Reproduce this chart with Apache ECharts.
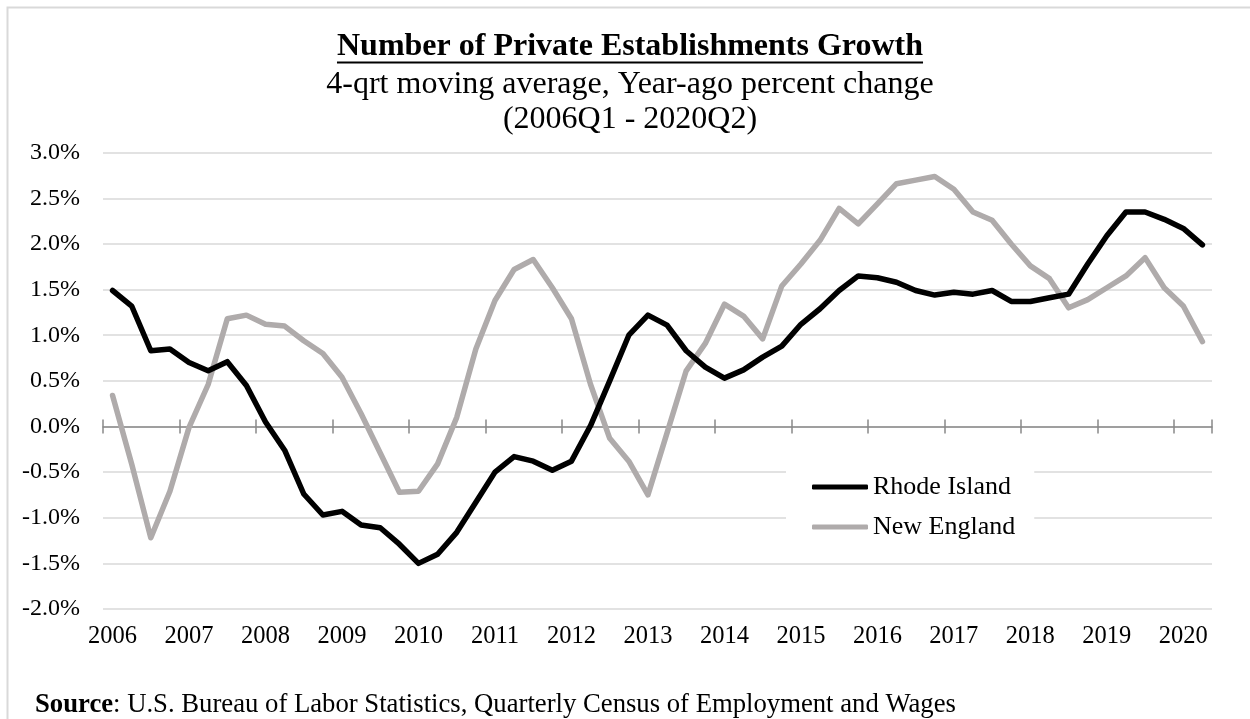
<!DOCTYPE html>
<html>
<head>
<meta charset="utf-8">
<title>Number of Private Establishments Growth</title>
<script src="https://cdn.jsdelivr.net/npm/echarts@6/dist/echarts.min.js"></script>
<style>
  html, body { margin: 0; padding: 0; background: #fff; }
  #chart { width: 1250px; height: 719px; }
</style>
</head>
<body>
<div id="chart"></div>
<script>
// Quarterly categories, 2006Q1 - 2020Q2
const quarters = [
  '2006Q1','2006Q2','2006Q3','2006Q4','2007Q1','2007Q2','2007Q3','2007Q4',
  '2008Q1','2008Q2','2008Q3','2008Q4','2009Q1','2009Q2','2009Q3','2009Q4',
  '2010Q1','2010Q2','2010Q3','2010Q4','2011Q1','2011Q2','2011Q3','2011Q4',
  '2012Q1','2012Q2','2012Q3','2012Q4','2013Q1','2013Q2','2013Q3','2013Q4',
  '2014Q1','2014Q2','2014Q3','2014Q4','2015Q1','2015Q2','2015Q3','2015Q4',
  '2016Q1','2016Q2','2016Q3','2016Q4','2017Q1','2017Q2','2017Q3','2017Q4',
  '2018Q1','2018Q2','2018Q3','2018Q4','2019Q1','2019Q2','2019Q3','2019Q4',
  '2020Q1','2020Q2'
];

// 4-quarter moving average, year-ago percent change (%)
const rhodeIsland = [
  1.49, 1.32, 0.83, 0.85, 0.70, 0.61, 0.71, 0.45,
  0.05, -0.26, -0.74, -0.97, -0.93, -1.08, -1.11, -1.29,
  -1.50, -1.40, -1.16, -0.83, -0.50, -0.33, -0.38, -0.48,
  -0.38, 0.01, 0.50, 1.00, 1.22, 1.11, 0.83, 0.65,
  0.53, 0.62, 0.76, 0.88, 1.12, 1.29, 1.49, 1.65,
  1.63, 1.58, 1.49, 1.44, 1.47, 1.45, 1.49, 1.37,
  1.37, 1.41, 1.45, 1.78, 2.09, 2.35, 2.35, 2.27,
  2.17, 1.99
];

const newEngland = [
  0.34, -0.41, -1.22, -0.71, -0.01, 0.46, 1.18, 1.22,
  1.12, 1.10, 0.94, 0.80, 0.54, 0.14, -0.29, -0.72,
  -0.71, -0.41, 0.10, 0.85, 1.38, 1.72, 1.83, 1.52,
  1.18, 0.46, -0.13, -0.38, -0.75, -0.07, 0.61, 0.91,
  1.34, 1.21, 0.96, 1.54, 1.78, 2.04, 2.39, 2.22,
  2.44, 2.66, 2.70, 2.74, 2.60, 2.35, 2.26, 2.00,
  1.76, 1.62, 1.30, 1.39, 1.52, 1.65, 1.85, 1.52,
  1.32, 0.93
];

const seriesNames = ['Rhode Island', 'New England'];
const titleLines = [
  'Number of Private Establishments Growth',
  '4-qrt moving average, Year-ago percent change',
  '(2006Q1 - 2020Q2)'
];
const sourceLabel = 'Source';
const sourceText = ': U.S. Bureau of Labor Statistics, Quarterly Census of Employment and Wages';

const Y_MIN = -2, Y_MAX = 3, Y_STEP = 0.5;

const SERIF = '"Liberation Serif", "Times New Roman", "DejaVu Serif", serif';
const titleFont = 'bold 32px ' + SERIF;
const subFont = '32px ' + SERIF;

// width of the bold title, used for its underline
function measure(font, text) {
  const ctx = document.createElement('canvas').getContext('2d');
  ctx.font = font;
  return ctx.measureText(text).width;
}
const titleCenterX = 630;
const titleW = measure(titleFont, titleLines[0]);

const chart = echarts.init(document.getElementById('chart'), null, { renderer: 'canvas' });

const axisGray = '#898989';
const tickStyle = { color: axisGray, width: 1.5 };

chart.setOption({
  animation: false,
  backgroundColor: '#ffffff',
  grid: {
    left: 103, right: 38, top: 152.7, bottom: 110,
    containLabel: false,
    outerBoundsMode: 'none'
  },
  xAxis: [
    {
      // category axis on the zero line: line, downward ticks, year labels
      type: 'category',
      data: quarters,
      position: 'bottom',
      axisLine: { onZero: true, onZeroAxisIndex: 0, lineStyle: { color: axisGray, width: 1.5 } },
      axisTick: { show: true, interval: 3, length: 7, lineStyle: tickStyle },
      axisLabel: {
        interval: 3,
        margin: 14,
        fontFamily: SERIF,
        fontSize: 24.5,
        lineHeight: 28,
        color: '#000',
        formatter: v => v.slice(0, 4)
      },
      splitLine: { show: false }
    },
    {
      // twin axis on the zero line supplying the upward half of the cross ticks
      type: 'category',
      data: quarters,
      position: 'top',
      axisLine: { show: false, onZero: true, onZeroAxisIndex: 1 },
      axisTick: { show: true, interval: 3, length: 7, lineStyle: tickStyle },
      axisLabel: { show: false },
      splitLine: { show: false }
    }
  ],
  yAxis: [
    {
      type: 'value',
      min: Y_MIN,
      max: Y_MAX,
      interval: Y_STEP,
      axisLine: { show: false },
      axisTick: { show: false },
      axisLabel: {
        margin: 23,
        fontFamily: SERIF,
        fontSize: 24,
        color: '#000',
        formatter: v => v.toFixed(1) + '%'
      },
      splitLine: { lineStyle: { color: '#d9d9d9', width: 1.5 } }
    },
    {
      type: 'value',
      min: Y_MIN,
      max: Y_MAX,
      interval: Y_STEP,
      show: false,
      splitLine: { show: false }
    }
  ],
  legend: {
    orient: 'vertical',
    left: 786,
    top: 455,
    padding: [19, 19, 5, 26],
    itemGap: 14,
    itemWidth: 56,
    itemHeight: 5,
    icon: 'roundRect',
    backgroundColor: '#ffffff',
    textStyle: { fontFamily: SERIF, fontSize: 26, color: '#000' },
    data: seriesNames
  },
  series: [
    {
      name: seriesNames[1],
      type: 'line',
      data: newEngland,
      color: '#afabab',
      symbol: 'none',
      z: 3,
      lineStyle: { width: 5.5, color: '#afabab', cap: 'round', join: 'round' }
    },
    {
      name: seriesNames[0],
      type: 'line',
      data: rhodeIsland,
      color: '#000000',
      symbol: 'none',
      z: 4,
      lineStyle: { width: 5.5, color: '#000000', cap: 'round', join: 'round' }
    }
  ],
  graphic: [
    {
      type: 'rect',
      silent: true,
      shape: { x: 7.5, y: 7.5, width: 1300, height: 760 },
      style: { fill: 'none', stroke: '#d9d9d9', lineWidth: 2 },
      z: 0
    },
    {
      type: 'text',
      silent: true,
      style: {
        text: titleLines[0], x: titleCenterX, y: 47,
        align: 'center', verticalAlign: 'middle',
        font: titleFont, fill: '#000'
      }
    },
    {
      type: 'line',
      silent: true,
      shape: { x1: titleCenterX - titleW / 2, y1: 62.5, x2: titleCenterX + titleW / 2, y2: 62.5 },
      style: { stroke: '#000', lineWidth: 2 }
    },
    {
      type: 'text',
      silent: true,
      style: {
        text: titleLines[1], x: titleCenterX, y: 85,
        align: 'center', verticalAlign: 'middle',
        font: subFont, fill: '#000'
      }
    },
    {
      type: 'text',
      silent: true,
      style: {
        text: titleLines[2], x: titleCenterX, y: 120,
        align: 'center', verticalAlign: 'middle',
        font: subFont, fill: '#000'
      }
    },
    {
      type: 'text',
      silent: true,
      style: {
        text: '{b|' + sourceLabel + '}' + sourceText,
        x: 35, y: 705,
        verticalAlign: 'middle',
        font: '26.7px ' + SERIF, fill: '#000',
        rich: { b: { fontWeight: 'bold', fontSize: 26.7, fontFamily: SERIF, fill: '#000' } }
      }
    }
  ]
});
</script>
</body>
</html>
